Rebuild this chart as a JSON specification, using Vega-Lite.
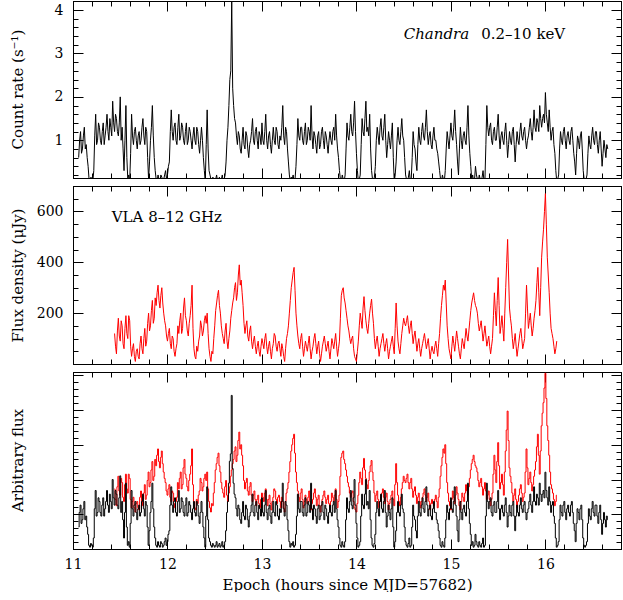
{
"$schema": "https://vega.github.io/schema/vega-lite/v6.json",
"padding": {"left": 10, "top": 0, "right": 0, "bottom": 0},
"background": "white",
"spacing": 8,
"bounds": "flush",
"config": {
  "view": {"stroke": null},
  "font": "DejaVu Serif",
  "axis": {"grid": false, "domainColor": "black", "tickColor": "black", "labelColor": "black", "titleColor": "black", "labelFont": "DejaVu Serif", "titleFont": "DejaVu Serif", "labelFontSize": 14, "titleFontSize": 15, "titleFontWeight": "normal", "labelFlush": false, "labelOverlap": false, "domainWidth": 1, "tickWidth": 1, "ticks": true}
},
"datasets": {
"xray": [
{"t":11.06,"c":0.6},{"t":11.07,"c":1.0},{"t":11.08,"c":1.2},{"t":11.09,"c":0.7},{"t":11.10,"c":0.8},{"t":11.11,"c":1.1},{"t":11.12,"c":1.3},{"t":11.13,"c":0.8},{"t":11.14,"c":0.9},{"t":11.15,"c":0.6},
{"t":11.16,"c":0.4},{"t":11.17,"c":0.1},{"t":11.18,"c":0.05},{"t":11.19,"c":0.15},{"t":11.20,"c":0.1},{"t":11.21,"c":0.05},{"t":11.22,"c":0.3},{"t":11.23,"c":1.1},{"t":11.24,"c":1.6},{"t":11.25,"c":0.9},
{"t":11.26,"c":1.0},{"t":11.27,"c":1.4},{"t":11.28,"c":1.3},{"t":11.29,"c":1.0},{"t":11.30,"c":0.9},{"t":11.31,"c":1.2},{"t":11.32,"c":1.4},{"t":11.33,"c":0.9},{"t":11.34,"c":1.1},{"t":11.35,"c":1.3},
{"t":11.36,"c":1.6},{"t":11.37,"c":1.2},{"t":11.38,"c":1.0},{"t":11.39,"c":1.5},{"t":11.40,"c":1.3},{"t":11.41,"c":1.1},{"t":11.42,"c":1.9},{"t":11.43,"c":1.4},{"t":11.44,"c":1.2},{"t":11.45,"c":1.6},
{"t":11.46,"c":1.5},{"t":11.47,"c":1.2},{"t":11.48,"c":1.1},{"t":11.49,"c":1.4},{"t":11.50,"c":2.0},{"t":11.51,"c":1.0},{"t":11.52,"c":1.3},{"t":11.53,"c":0.8},{"t":11.54,"c":0.3},{"t":11.55,"c":1.0},
{"t":11.56,"c":1.8},{"t":11.57,"c":0.6},{"t":11.58,"c":0.1},{"t":11.59,"c":0.2},{"t":11.60,"c":0.05},{"t":11.61,"c":0.7},{"t":11.62,"c":1.6},{"t":11.63,"c":1.1},{"t":11.64,"c":0.9},{"t":11.65,"c":1.2},
{"t":11.66,"c":1.3},{"t":11.67,"c":1.0},{"t":11.68,"c":0.8},{"t":11.69,"c":1.1},{"t":11.70,"c":1.2},{"t":11.71,"c":0.9},{"t":11.72,"c":1.0},{"t":11.73,"c":1.3},{"t":11.74,"c":1.5},{"t":11.75,"c":1.1},
{"t":11.76,"c":0.9},{"t":11.77,"c":1.3},{"t":11.78,"c":1.2},{"t":11.79,"c":0.6},{"t":11.80,"c":0.1},{"t":11.81,"c":0.5},{"t":11.82,"c":1.0},{"t":11.83,"c":1.3},{"t":11.84,"c":1.8},{"t":11.85,"c":1.1},
{"t":11.86,"c":0.6},{"t":11.87,"c":0.3},{"t":11.88,"c":0.1},{"t":11.89,"c":0.05},{"t":11.90,"c":0.2},{"t":11.91,"c":0.1},{"t":11.92,"c":0.05},{"t":11.93,"c":0.2},{"t":11.94,"c":0.15},{"t":11.95,"c":0.05},
{"t":11.96,"c":0.1},{"t":11.97,"c":0.2},{"t":11.98,"c":0.3},{"t":11.99,"c":0.1},{"t":12.00,"c":0.2},{"t":12.01,"c":0.4},{"t":12.02,"c":0.5},{"t":12.03,"c":1.2},{"t":12.04,"c":1.7},{"t":12.05,"c":1.2},
{"t":12.06,"c":1.0},{"t":12.07,"c":1.3},{"t":12.08,"c":1.4},{"t":12.09,"c":1.0},{"t":12.10,"c":0.9},{"t":12.11,"c":1.3},{"t":12.12,"c":1.6},{"t":12.13,"c":1.0},{"t":12.14,"c":1.1},{"t":12.15,"c":1.4},
{"t":12.16,"c":1.3},{"t":12.17,"c":1.0},{"t":12.18,"c":0.9},{"t":12.19,"c":1.2},{"t":12.20,"c":1.4},{"t":12.21,"c":0.9},{"t":12.22,"c":1.0},{"t":12.23,"c":1.3},{"t":12.24,"c":1.2},{"t":12.25,"c":1.0},
{"t":12.26,"c":0.8},{"t":12.27,"c":1.1},{"t":12.28,"c":1.3},{"t":12.29,"c":1.0},{"t":12.30,"c":0.9},{"t":12.31,"c":1.3},{"t":12.32,"c":1.2},{"t":12.33,"c":0.9},{"t":12.34,"c":0.7},{"t":12.35,"c":1.0},
{"t":12.36,"c":1.3},{"t":12.37,"c":1.0},{"t":12.38,"c":0.6},{"t":12.39,"c":0.3},{"t":12.40,"c":0.05},{"t":12.41,"c":0.9},{"t":12.42,"c":1.7},{"t":12.43,"c":0.8},{"t":12.44,"c":0.3},{"t":12.45,"c":0.2},
{"t":12.46,"c":0.1},{"t":12.47,"c":0.05},{"t":12.48,"c":0.15},{"t":12.49,"c":0.1},{"t":12.50,"c":0.05},{"t":12.51,"c":0.1},{"t":12.52,"c":0.2},{"t":12.53,"c":0.05},{"t":12.54,"c":0.1},{"t":12.55,"c":0.15},
{"t":12.56,"c":0.05},{"t":12.57,"c":0.1},{"t":12.58,"c":0.2},{"t":12.59,"c":0.05},{"t":12.60,"c":0.1},{"t":12.61,"c":0.2},{"t":12.62,"c":0.5},{"t":12.63,"c":1.0},{"t":12.64,"c":1.3},{"t":12.65,"c":1.8},
{"t":12.66,"c":2.4},{"t":12.67,"c":2.6},{"t":12.68,"c":4.2},{"t":12.69,"c":2.2},{"t":12.70,"c":1.8},{"t":12.71,"c":1.5},{"t":12.72,"c":1.4},{"t":12.73,"c":1.1},{"t":12.74,"c":0.9},{"t":12.75,"c":1.2},
{"t":12.76,"c":1.1},{"t":12.77,"c":0.8},{"t":12.78,"c":0.7},{"t":12.79,"c":1.0},{"t":12.80,"c":1.3},{"t":12.81,"c":0.9},{"t":12.82,"c":0.8},{"t":12.83,"c":1.2},{"t":12.84,"c":1.1},{"t":12.85,"c":0.8},
{"t":12.86,"c":0.6},{"t":12.87,"c":0.9},{"t":12.88,"c":1.0},{"t":12.89,"c":1.2},{"t":12.90,"c":1.5},{"t":12.91,"c":1.0},{"t":12.92,"c":0.9},{"t":12.93,"c":1.2},{"t":12.94,"c":1.3},{"t":12.95,"c":1.0},
{"t":12.96,"c":0.8},{"t":12.97,"c":1.2},{"t":12.98,"c":1.1},{"t":12.99,"c":0.9},{"t":13.00,"c":1.4},{"t":13.01,"c":1.0},{"t":13.02,"c":0.9},{"t":13.03,"c":1.2},{"t":13.04,"c":1.6},{"t":13.05,"c":1.0},
{"t":13.06,"c":0.8},{"t":13.07,"c":1.1},{"t":13.08,"c":1.2},{"t":13.09,"c":0.9},{"t":13.10,"c":0.7},{"t":13.11,"c":1.0},{"t":13.12,"c":1.3},{"t":13.13,"c":1.0},{"t":13.14,"c":0.9},{"t":13.15,"c":1.3},
{"t":13.16,"c":1.2},{"t":13.17,"c":0.9},{"t":13.18,"c":0.8},{"t":13.19,"c":1.1},{"t":13.20,"c":1.0},{"t":13.21,"c":1.3},{"t":13.22,"c":1.8},{"t":13.23,"c":1.1},{"t":13.24,"c":0.9},{"t":13.25,"c":1.3},
{"t":13.26,"c":1.2},{"t":13.27,"c":0.8},{"t":13.28,"c":0.5},{"t":13.29,"c":0.2},{"t":13.30,"c":0.05},{"t":13.31,"c":0.15},{"t":13.32,"c":0.1},{"t":13.33,"c":0.2},{"t":13.34,"c":0.05},{"t":13.35,"c":0.1},
{"t":13.36,"c":0.4},{"t":13.37,"c":0.9},{"t":13.38,"c":1.5},{"t":13.39,"c":1.1},{"t":13.40,"c":1.0},{"t":13.41,"c":1.3},{"t":13.42,"c":1.3},{"t":13.43,"c":1.0},{"t":13.44,"c":0.9},{"t":13.45,"c":1.2},
{"t":13.46,"c":1.4},{"t":13.47,"c":0.9},{"t":13.48,"c":1.0},{"t":13.49,"c":1.3},{"t":13.50,"c":1.2},{"t":13.51,"c":1.0},{"t":13.52,"c":1.8},{"t":13.53,"c":1.1},{"t":13.54,"c":0.8},{"t":13.55,"c":1.2},
{"t":13.56,"c":1.1},{"t":13.57,"c":0.9},{"t":13.58,"c":0.7},{"t":13.59,"c":1.1},{"t":13.60,"c":1.2},{"t":13.61,"c":0.8},{"t":13.62,"c":0.9},{"t":13.63,"c":1.2},{"t":13.64,"c":1.3},{"t":13.65,"c":1.0},
{"t":13.66,"c":0.8},{"t":13.67,"c":1.2},{"t":13.68,"c":1.1},{"t":13.69,"c":0.9},{"t":13.70,"c":0.7},{"t":13.71,"c":1.0},{"t":13.72,"c":1.2},{"t":13.73,"c":1.0},{"t":13.74,"c":0.9},{"t":13.75,"c":1.2},
{"t":13.76,"c":1.3},{"t":13.77,"c":1.0},{"t":13.78,"c":1.6},{"t":13.79,"c":1.1},{"t":13.80,"c":0.8},{"t":13.81,"c":0.6},{"t":13.82,"c":0.3},{"t":13.83,"c":0.1},{"t":13.84,"c":0.05},{"t":13.85,"c":0.2},
{"t":13.86,"c":0.1},{"t":13.87,"c":0.05},{"t":13.88,"c":0.2},{"t":13.89,"c":0.8},{"t":13.90,"c":1.4},{"t":13.91,"c":1.1},{"t":13.92,"c":1.0},{"t":13.93,"c":1.3},{"t":13.94,"c":1.6},{"t":13.95,"c":1.2},
{"t":13.96,"c":1.1},{"t":13.97,"c":1.4},{"t":13.98,"c":1.9},{"t":13.99,"c":1.2},{"t":14.00,"c":0.7},{"t":14.01,"c":0.3},{"t":14.02,"c":0.05},{"t":14.03,"c":0.1},{"t":14.04,"c":0.2},{"t":14.05,"c":0.9},
{"t":14.06,"c":1.5},{"t":14.07,"c":1.2},{"t":14.08,"c":1.1},{"t":14.09,"c":1.5},{"t":14.10,"c":1.9},{"t":14.11,"c":1.2},{"t":14.12,"c":1.3},{"t":14.13,"c":1.1},{"t":14.14,"c":1.6},{"t":14.15,"c":0.8},
{"t":14.16,"c":0.3},{"t":14.17,"c":0.1},{"t":14.18,"c":0.05},{"t":14.19,"c":0.15},{"t":14.20,"c":0.4},{"t":14.21,"c":1.0},{"t":14.22,"c":1.3},{"t":14.23,"c":1.1},{"t":14.24,"c":0.9},{"t":14.25,"c":1.3},
{"t":14.26,"c":1.5},{"t":14.27,"c":1.1},{"t":14.28,"c":1.0},{"t":14.29,"c":1.3},{"t":14.30,"c":1.6},{"t":14.31,"c":1.0},{"t":14.32,"c":0.6},{"t":14.33,"c":0.9},{"t":14.34,"c":1.2},{"t":14.35,"c":1.0},
{"t":14.36,"c":0.8},{"t":14.37,"c":1.1},{"t":14.38,"c":1.4},{"t":14.39,"c":0.6},{"t":14.40,"c":0.05},{"t":14.41,"c":0.2},{"t":14.42,"c":0.5},{"t":14.43,"c":1.0},{"t":14.44,"c":1.3},{"t":14.45,"c":1.0},
{"t":14.46,"c":0.9},{"t":14.47,"c":1.2},{"t":14.48,"c":1.5},{"t":14.49,"c":1.1},{"t":14.50,"c":1.0},{"t":14.51,"c":0.6},{"t":14.52,"c":0.2},{"t":14.53,"c":0.1},{"t":14.54,"c":0.05},{"t":14.55,"c":0.15},
{"t":14.56,"c":0.3},{"t":14.57,"c":0.05},{"t":14.58,"c":0.1},{"t":14.59,"c":0.6},{"t":14.60,"c":1.2},{"t":14.61,"c":0.9},{"t":14.62,"c":0.8},{"t":14.63,"c":0.5},{"t":14.64,"c":0.3},{"t":14.65,"c":0.9},
{"t":14.66,"c":1.3},{"t":14.67,"c":1.0},{"t":14.68,"c":0.9},{"t":14.69,"c":1.2},{"t":14.70,"c":1.4},{"t":14.71,"c":1.1},{"t":14.72,"c":1.0},{"t":14.73,"c":1.3},{"t":14.74,"c":1.7},{"t":14.75,"c":1.2},
{"t":14.76,"c":0.9},{"t":14.77,"c":1.1},{"t":14.78,"c":1.2},{"t":14.79,"c":0.9},{"t":14.80,"c":0.8},{"t":14.81,"c":1.1},{"t":14.82,"c":1.3},{"t":14.83,"c":1.0},{"t":14.84,"c":1.0},{"t":14.85,"c":0.8},
{"t":14.86,"c":0.7},{"t":14.87,"c":0.5},{"t":14.88,"c":0.3},{"t":14.89,"c":0.1},{"t":14.90,"c":0.05},{"t":14.91,"c":0.2},{"t":14.92,"c":0.1},{"t":14.93,"c":0.05},{"t":14.94,"c":0.3},{"t":14.95,"c":0.8},
{"t":14.96,"c":1.2},{"t":14.97,"c":1.0},{"t":14.98,"c":0.8},{"t":14.99,"c":1.1},{"t":15.00,"c":1.4},{"t":15.01,"c":1.1},{"t":15.02,"c":1.0},{"t":15.03,"c":1.3},{"t":15.04,"c":1.7},{"t":15.05,"c":1.2},
{"t":15.06,"c":0.9},{"t":15.07,"c":0.5},{"t":15.08,"c":0.2},{"t":15.09,"c":0.8},{"t":15.10,"c":1.3},{"t":15.11,"c":1.0},{"t":15.12,"c":0.8},{"t":15.13,"c":1.1},{"t":15.14,"c":1.2},{"t":15.15,"c":1.0},
{"t":15.16,"c":0.9},{"t":15.17,"c":1.3},{"t":15.18,"c":1.8},{"t":15.19,"c":1.1},{"t":15.20,"c":0.7},{"t":15.21,"c":0.4},{"t":15.22,"c":0.1},{"t":15.23,"c":0.2},{"t":15.24,"c":0.05},{"t":15.25,"c":0.1},
{"t":15.26,"c":0.4},{"t":15.27,"c":0.2},{"t":15.28,"c":0.1},{"t":15.29,"c":0.05},{"t":15.30,"c":0.2},{"t":15.31,"c":0.1},{"t":15.32,"c":0.05},{"t":15.33,"c":0.15},{"t":15.34,"c":0.3},{"t":15.35,"c":0.05},
{"t":15.36,"c":0.1},{"t":15.37,"c":0.9},{"t":15.38,"c":1.8},{"t":15.39,"c":1.3},{"t":15.40,"c":1.1},{"t":15.41,"c":1.3},{"t":15.42,"c":1.4},{"t":15.43,"c":1.0},{"t":15.44,"c":0.9},{"t":15.45,"c":1.2},
{"t":15.46,"c":1.3},{"t":15.47,"c":1.0},{"t":15.48,"c":1.0},{"t":15.49,"c":1.3},{"t":15.50,"c":1.6},{"t":15.51,"c":1.1},{"t":15.52,"c":0.8},{"t":15.53,"c":1.1},{"t":15.54,"c":1.2},{"t":15.55,"c":1.0},
{"t":15.56,"c":0.9},{"t":15.57,"c":1.2},{"t":15.58,"c":1.4},{"t":15.59,"c":1.0},{"t":15.60,"c":0.6},{"t":15.61,"c":0.9},{"t":15.62,"c":1.2},{"t":15.63,"c":1.0},{"t":15.64,"c":0.9},{"t":15.65,"c":1.2},
{"t":15.66,"c":1.3},{"t":15.67,"c":0.9},{"t":15.68,"c":0.5},{"t":15.69,"c":0.9},{"t":15.70,"c":1.2},{"t":15.71,"c":1.0},{"t":15.72,"c":0.9},{"t":15.73,"c":1.2},{"t":15.74,"c":1.4},{"t":15.75,"c":1.1},
{"t":15.76,"c":1.0},{"t":15.77,"c":1.2},{"t":15.78,"c":1.3},{"t":15.79,"c":1.0},{"t":15.80,"c":0.8},{"t":15.81,"c":1.0},{"t":15.82,"c":1.1},{"t":15.83,"c":1.3},{"t":15.84,"c":1.5},{"t":15.85,"c":1.2},
{"t":15.86,"c":1.0},{"t":15.87,"c":1.3},{"t":15.88,"c":1.7},{"t":15.89,"c":1.3},{"t":15.90,"c":1.2},{"t":15.91,"c":1.5},{"t":15.92,"c":1.4},{"t":15.93,"c":1.2},{"t":15.94,"c":1.8},{"t":15.95,"c":1.5},
{"t":15.96,"c":1.3},{"t":15.97,"c":1.5},{"t":15.98,"c":1.6},{"t":15.99,"c":1.4},{"t":16.00,"c":2.1},{"t":16.01,"c":1.6},{"t":16.02,"c":1.4},{"t":16.03,"c":1.2},{"t":16.04,"c":1.7},{"t":16.05,"c":1.3},
{"t":16.06,"c":1.0},{"t":16.07,"c":1.2},{"t":16.08,"c":1.3},{"t":16.09,"c":0.9},{"t":16.10,"c":0.7},{"t":16.11,"c":0.3},{"t":16.12,"c":0.05},{"t":16.13,"c":0.1},{"t":16.14,"c":0.2},{"t":16.15,"c":0.8},
{"t":16.16,"c":1.2},{"t":16.17,"c":1.0},{"t":16.18,"c":0.9},{"t":16.19,"c":1.2},{"t":16.20,"c":1.3},{"t":16.21,"c":1.0},{"t":16.22,"c":0.8},{"t":16.23,"c":1.1},{"t":16.24,"c":1.2},{"t":16.25,"c":1.0},
{"t":16.26,"c":0.9},{"t":16.27,"c":1.2},{"t":16.28,"c":1.3},{"t":16.29,"c":1.0},{"t":16.30,"c":0.7},{"t":16.31,"c":0.5},{"t":16.32,"c":0.2},{"t":16.33,"c":0.7},{"t":16.34,"c":1.1},{"t":16.35,"c":1.0},
{"t":16.36,"c":0.8},{"t":16.37,"c":1.1},{"t":16.38,"c":1.2},{"t":16.39,"c":0.8},{"t":16.40,"c":0.3},{"t":16.41,"c":0.1},{"t":16.42,"c":0.05},{"t":16.43,"c":0.1},{"t":16.44,"c":0.2},{"t":16.45,"c":0.7},
{"t":16.46,"c":1.1},{"t":16.47,"c":0.9},{"t":16.48,"c":0.8},{"t":16.49,"c":1.1},{"t":16.50,"c":1.3},{"t":16.51,"c":1.0},{"t":16.52,"c":0.9},{"t":16.53,"c":1.2},{"t":16.54,"c":1.2},{"t":16.55,"c":0.9},
{"t":16.56,"c":0.7},{"t":16.57,"c":1.0},{"t":16.58,"c":1.2},{"t":16.59,"c":0.8},{"t":16.60,"c":0.4},{"t":16.61,"c":0.7},{"t":16.62,"c":1.0},{"t":16.63,"c":0.8},{"t":16.64,"c":0.6},{"t":16.65,"c":0.9},
{"t":16.66,"c":0.8}
],
"radio": [
{"t":11.44,"f":120},{"t":11.45,"f":70},{"t":11.46,"f":40},{"t":11.47,"f":130},{"t":11.48,"f":180},{"t":11.49,"f":110},{"t":11.50,"f":90},{"t":11.51,"f":170},{"t":11.52,"f":150},{"t":11.53,"f":80},
{"t":11.54,"f":60},{"t":11.55,"f":140},{"t":11.56,"f":190},{"t":11.57,"f":120},{"t":11.58,"f":100},{"t":11.59,"f":190},{"t":11.60,"f":170},{"t":11.61,"f":70},{"t":11.62,"f":30},{"t":11.63,"f":60},
{"t":11.64,"f":80},{"t":11.65,"f":30},{"t":11.66,"f":10},{"t":11.67,"f":50},{"t":11.68,"f":60},{"t":11.69,"f":30},{"t":11.70,"f":20},{"t":11.71,"f":80},{"t":11.72,"f":110},{"t":11.73,"f":60},
{"t":11.74,"f":40},{"t":11.75,"f":100},{"t":11.76,"f":140},{"t":11.77,"f":70},{"t":11.78,"f":90},{"t":11.79,"f":160},{"t":11.80,"f":200},{"t":11.81,"f":130},{"t":11.82,"f":150},{"t":11.83,"f":210},
{"t":11.84,"f":250},{"t":11.85,"f":160},{"t":11.86,"f":180},{"t":11.87,"f":260},{"t":11.88,"f":230},{"t":11.89,"f":280},{"t":11.90,"f":310},{"t":11.91,"f":250},{"t":11.92,"f":220},{"t":11.93,"f":270},
{"t":11.94,"f":300},{"t":11.95,"f":240},{"t":11.96,"f":200},{"t":11.97,"f":170},{"t":11.98,"f":150},{"t":11.99,"f":110},{"t":12.00,"f":90},{"t":12.01,"f":120},{"t":12.02,"f":140},{"t":12.03,"f":80},
{"t":12.04,"f":60},{"t":12.05,"f":110},{"t":12.06,"f":100},{"t":12.07,"f":50},{"t":12.08,"f":30},{"t":12.09,"f":60},{"t":12.10,"f":80},{"t":12.11,"f":150},{"t":12.12,"f":120},{"t":12.13,"f":170},
{"t":12.14,"f":200},{"t":12.15,"f":120},{"t":12.16,"f":140},{"t":12.17,"f":220},{"t":12.18,"f":260},{"t":12.19,"f":190},{"t":12.20,"f":170},{"t":12.21,"f":130},{"t":12.22,"f":110},{"t":12.23,"f":160},
{"t":12.24,"f":190},{"t":12.25,"f":230},{"t":12.26,"f":310},{"t":12.27,"f":140},{"t":12.28,"f":60},{"t":12.29,"f":30},{"t":12.30,"f":20},{"t":12.31,"f":70},{"t":12.32,"f":50},{"t":12.33,"f":90},
{"t":12.34,"f":110},{"t":12.35,"f":170},{"t":12.36,"f":150},{"t":12.37,"f":110},{"t":12.38,"f":130},{"t":12.39,"f":170},{"t":12.40,"f":190},{"t":12.41,"f":160},{"t":12.42,"f":200},{"t":12.43,"f":120},
{"t":12.44,"f":60},{"t":12.45,"f":30},{"t":12.46,"f":10},{"t":12.47,"f":50},{"t":12.48,"f":40},{"t":12.49,"f":100},{"t":12.50,"f":150},{"t":12.51,"f":210},{"t":12.52,"f":240},{"t":12.53,"f":270},
{"t":12.54,"f":290},{"t":12.55,"f":230},{"t":12.56,"f":200},{"t":12.57,"f":150},{"t":12.58,"f":120},{"t":12.59,"f":100},{"t":12.60,"f":80},{"t":12.61,"f":130},{"t":12.62,"f":160},{"t":12.63,"f":90},
{"t":12.64,"f":60},{"t":12.65,"f":100},{"t":12.66,"f":130},{"t":12.67,"f":180},{"t":12.68,"f":210},{"t":12.69,"f":240},{"t":12.70,"f":260},{"t":12.71,"f":300},{"t":12.72,"f":320},{"t":12.73,"f":250},
{"t":12.74,"f":280},{"t":12.75,"f":350},{"t":12.76,"f":390},{"t":12.77,"f":310},{"t":12.78,"f":330},{"t":12.79,"f":280},{"t":12.80,"f":230},{"t":12.81,"f":160},{"t":12.82,"f":120},{"t":12.83,"f":150},
{"t":12.84,"f":170},{"t":12.85,"f":110},{"t":12.86,"f":90},{"t":12.87,"f":130},{"t":12.88,"f":150},{"t":12.89,"f":90},{"t":12.90,"f":60},{"t":12.91,"f":90},{"t":12.92,"f":110},{"t":12.93,"f":70},
{"t":12.94,"f":40},{"t":12.95,"f":70},{"t":12.96,"f":90},{"t":12.97,"f":50},{"t":12.98,"f":30},{"t":12.99,"f":70},{"t":13.00,"f":100},{"t":13.01,"f":80},{"t":13.02,"f":60},{"t":13.03,"f":100},
{"t":13.04,"f":120},{"t":13.05,"f":70},{"t":13.06,"f":40},{"t":13.07,"f":70},{"t":13.08,"f":90},{"t":13.09,"f":50},{"t":13.10,"f":20},{"t":13.11,"f":60},{"t":13.12,"f":80},{"t":13.13,"f":120},
{"t":13.14,"f":110},{"t":13.15,"f":70},{"t":13.16,"f":50},{"t":13.17,"f":80},{"t":13.18,"f":90},{"t":13.19,"f":60},{"t":13.20,"f":30},{"t":13.21,"f":80},{"t":13.22,"f":60},{"t":13.23,"f":30},
{"t":13.24,"f":10},{"t":13.25,"f":60},{"t":13.26,"f":100},{"t":13.27,"f":120},{"t":13.28,"f":150},{"t":13.29,"f":200},{"t":13.30,"f":250},{"t":13.31,"f":300},{"t":13.32,"f":330},{"t":13.33,"f":360},
{"t":13.34,"f":380},{"t":13.35,"f":290},{"t":13.36,"f":200},{"t":13.37,"f":150},{"t":13.38,"f":110},{"t":13.39,"f":80},{"t":13.40,"f":60},{"t":13.41,"f":100},{"t":13.42,"f":120},{"t":13.43,"f":70},
{"t":13.44,"f":30},{"t":13.45,"f":60},{"t":13.46,"f":90},{"t":13.47,"f":70},{"t":13.48,"f":50},{"t":13.49,"f":80},{"t":13.50,"f":110},{"t":13.51,"f":60},{"t":13.52,"f":20},{"t":13.53,"f":50},
{"t":13.54,"f":70},{"t":13.55,"f":100},{"t":13.56,"f":120},{"t":13.57,"f":80},{"t":13.58,"f":40},{"t":13.59,"f":70},{"t":13.60,"f":90},{"t":13.61,"f":40},{"t":13.62,"f":10},{"t":13.63,"f":40},
{"t":13.64,"f":70},{"t":13.65,"f":90},{"t":13.66,"f":110},{"t":13.67,"f":80},{"t":13.68,"f":50},{"t":13.69,"f":70},{"t":13.70,"f":90},{"t":13.71,"f":50},{"t":13.72,"f":20},{"t":13.73,"f":60},
{"t":13.74,"f":100},{"t":13.75,"f":80},{"t":13.76,"f":60},{"t":13.77,"f":90},{"t":13.78,"f":120},{"t":13.79,"f":70},{"t":13.80,"f":30},{"t":13.81,"f":60},{"t":13.82,"f":90},{"t":13.83,"f":180},
{"t":13.84,"f":270},{"t":13.85,"f":290},{"t":13.86,"f":300},{"t":13.87,"f":260},{"t":13.88,"f":240},{"t":13.89,"f":210},{"t":13.90,"f":180},{"t":13.91,"f":150},{"t":13.92,"f":130},{"t":13.93,"f":100},
{"t":13.94,"f":80},{"t":13.95,"f":100},{"t":13.96,"f":110},{"t":13.97,"f":60},{"t":13.98,"f":30},{"t":13.99,"f":20},{"t":14.00,"f":10},{"t":14.01,"f":50},{"t":14.02,"f":90},{"t":14.03,"f":150},
{"t":14.04,"f":200},{"t":14.05,"f":170},{"t":14.06,"f":140},{"t":14.07,"f":220},{"t":14.08,"f":265},{"t":14.09,"f":210},{"t":14.10,"f":170},{"t":14.11,"f":140},{"t":14.12,"f":120},{"t":14.13,"f":160},
{"t":14.14,"f":200},{"t":14.15,"f":230},{"t":14.16,"f":255},{"t":14.17,"f":200},{"t":14.18,"f":160},{"t":14.19,"f":100},{"t":14.20,"f":60},{"t":14.21,"f":90},{"t":14.22,"f":110},{"t":14.23,"f":70},
{"t":14.24,"f":30},{"t":14.25,"f":60},{"t":14.26,"f":80},{"t":14.27,"f":100},{"t":14.28,"f":120},{"t":14.29,"f":80},{"t":14.30,"f":50},{"t":14.31,"f":80},{"t":14.32,"f":100},{"t":14.33,"f":60},
{"t":14.34,"f":20},{"t":14.35,"f":50},{"t":14.36,"f":70},{"t":14.37,"f":90},{"t":14.38,"f":110},{"t":14.39,"f":70},{"t":14.40,"f":40},{"t":14.41,"f":140},{"t":14.42,"f":240},{"t":14.43,"f":150},
{"t":14.44,"f":90},{"t":14.45,"f":60},{"t":14.46,"f":40},{"t":14.47,"f":80},{"t":14.48,"f":120},{"t":14.49,"f":150},{"t":14.50,"f":180},{"t":14.51,"f":160},{"t":14.52,"f":150},{"t":14.53,"f":170},
{"t":14.54,"f":190},{"t":14.55,"f":150},{"t":14.56,"f":120},{"t":14.57,"f":150},{"t":14.58,"f":170},{"t":14.59,"f":120},{"t":14.60,"f":80},{"t":14.61,"f":110},{"t":14.62,"f":130},{"t":14.63,"f":90},
{"t":14.64,"f":50},{"t":14.65,"f":80},{"t":14.66,"f":100},{"t":14.67,"f":60},{"t":14.68,"f":30},{"t":14.69,"f":60},{"t":14.70,"f":80},{"t":14.71,"f":100},{"t":14.72,"f":120},{"t":14.73,"f":90},
{"t":14.74,"f":60},{"t":14.75,"f":80},{"t":14.76,"f":100},{"t":14.77,"f":60},{"t":14.78,"f":20},{"t":14.79,"f":50},{"t":14.80,"f":70},{"t":14.81,"f":50},{"t":14.82,"f":40},{"t":14.83,"f":70},
{"t":14.84,"f":90},{"t":14.85,"f":60},{"t":14.86,"f":30},{"t":14.87,"f":80},{"t":14.88,"f":120},{"t":14.89,"f":180},{"t":14.90,"f":230},{"t":14.91,"f":270},{"t":14.92,"f":310},{"t":14.93,"f":290},
{"t":14.94,"f":330},{"t":14.95,"f":240},{"t":14.96,"f":150},{"t":14.97,"f":100},{"t":14.98,"f":60},{"t":14.99,"f":40},{"t":15.00,"f":20},{"t":15.01,"f":70},{"t":15.02,"f":110},{"t":15.03,"f":80},
{"t":15.04,"f":50},{"t":15.05,"f":90},{"t":15.06,"f":130},{"t":15.07,"f":100},{"t":15.08,"f":70},{"t":15.09,"f":40},{"t":15.10,"f":20},{"t":15.11,"f":60},{"t":15.12,"f":100},{"t":15.13,"f":80},
{"t":15.14,"f":60},{"t":15.15,"f":100},{"t":15.16,"f":140},{"t":15.17,"f":110},{"t":15.18,"f":90},{"t":15.19,"f":130},{"t":15.20,"f":170},{"t":15.21,"f":210},{"t":15.22,"f":240},{"t":15.23,"f":260},
{"t":15.24,"f":280},{"t":15.25,"f":250},{"t":15.26,"f":230},{"t":15.27,"f":220},{"t":15.28,"f":200},{"t":15.29,"f":160},{"t":15.30,"f":130},{"t":15.31,"f":150},{"t":15.32,"f":170},{"t":15.33,"f":130},
{"t":15.34,"f":90},{"t":15.35,"f":120},{"t":15.36,"f":150},{"t":15.37,"f":110},{"t":15.38,"f":70},{"t":15.39,"f":90},{"t":15.40,"f":110},{"t":15.41,"f":70},{"t":15.42,"f":40},{"t":15.43,"f":70},
{"t":15.44,"f":100},{"t":15.45,"f":190},{"t":15.46,"f":280},{"t":15.47,"f":210},{"t":15.48,"f":150},{"t":15.49,"f":250},{"t":15.50,"f":340},{"t":15.51,"f":230},{"t":15.52,"f":120},{"t":15.53,"f":150},
{"t":15.54,"f":190},{"t":15.55,"f":140},{"t":15.56,"f":90},{"t":15.57,"f":200},{"t":15.58,"f":300},{"t":15.59,"f":400},{"t":15.60,"f":490},{"t":15.61,"f":350},{"t":15.62,"f":220},{"t":15.63,"f":180},
{"t":15.64,"f":150},{"t":15.65,"f":100},{"t":15.66,"f":60},{"t":15.67,"f":90},{"t":15.68,"f":120},{"t":15.69,"f":70},{"t":15.70,"f":30},{"t":15.71,"f":60},{"t":15.72,"f":90},{"t":15.73,"f":120},
{"t":15.74,"f":140},{"t":15.75,"f":100},{"t":15.76,"f":60},{"t":15.77,"f":80},{"t":15.78,"f":100},{"t":15.79,"f":200},{"t":15.80,"f":310},{"t":15.81,"f":220},{"t":15.82,"f":140},{"t":15.83,"f":170},
{"t":15.84,"f":200},{"t":15.85,"f":150},{"t":15.86,"f":110},{"t":15.87,"f":140},{"t":15.88,"f":180},{"t":15.89,"f":210},{"t":15.90,"f":250},{"t":15.91,"f":320},{"t":15.92,"f":380},{"t":15.93,"f":280},
{"t":15.94,"f":190},{"t":15.95,"f":300},{"t":15.96,"f":420},{"t":15.97,"f":480},{"t":15.98,"f":530},{"t":15.99,"f":600},{"t":16.00,"f":670},{"t":16.01,"f":550},{"t":16.02,"f":420},{"t":16.03,"f":350},
{"t":16.04,"f":280},{"t":16.05,"f":200},{"t":16.06,"f":140},{"t":16.07,"f":120},{"t":16.08,"f":100},{"t":16.09,"f":70},{"t":16.10,"f":40},{"t":16.11,"f":60},{"t":16.12,"f":90}
]
},
"vconcat": [
{
  "width": 548, "height": 177,
  "resolve": {"axis": {"x": "independent", "y": "independent"}},
  "layer": [
    {
      "data": {"name": "xray"},
      "mark": {"type": "line", "color": "black", "strokeWidth": 1, "clip": true},
      "encoding": {
        "x": {"field": "t", "type": "quantitative", "scale": {"domain": [11, 16.8], "nice": false, "zero": false},
              "axis": {"orient": "bottom", "values": [11,12,13,14,15,16], "labels": false, "title": null, "tickSize": -10}},
        "y": {"field": "c", "type": "quantitative", "scale": {"domain": [0.13, 4.21], "nice": false, "zero": false},
              "axis": {"orient": "left", "values": [1,2,3,4], "format": "d", "labelPadding": 20, "tickSize": -10,
                       "title": "Count rate (s⁻¹)", "titleX": -56, "titleY": 88, "titleAngle": 270, "titleAlign": "center", "titleBaseline": "middle"}}
      }
    },
    {
      "data": {"name": "xray"},
      "mark": {"type": "line", "opacity": 0, "clip": true},
      "encoding": {
        "x": {"field": "t", "type": "quantitative", "scale": {"domain": [11, 16.8], "nice": false, "zero": false},
              "axis": {"orient": "top", "values": [11,12,13,14,15,16], "labels": false, "title": null, "tickSize": -10}},
        "y": {"field": "c", "type": "quantitative", "scale": {"domain": [0.13, 4.21], "nice": false, "zero": false},
              "axis": {"orient": "right", "values": [1,2,3,4], "labels": false, "title": null, "tickSize": -10}}
      }
    },
    {
      "data": {"name": "xray"},
      "mark": {"type": "line", "opacity": 0, "clip": true},
      "encoding": {
        "x": {"field": "t", "type": "quantitative", "scale": {"domain": [11, 16.8], "nice": false, "zero": false},
              "axis": {"orient": "bottom", "values": [11,11.2,11.4,11.6,11.8,12,12.2,12.4,12.6,12.8,13,13.2,13.4,13.6,13.8,14,14.2,14.4,14.6,14.8,15,15.2,15.4,15.6,15.8,16,16.2,16.4,16.6,16.8], "labels": false, "title": null, "tickSize": -5}},
        "y": {"field": "c", "type": "quantitative", "scale": {"domain": [0.13, 4.21], "nice": false, "zero": false},
              "axis": {"orient": "left", "values": [0.2,0.4,0.6,0.8,1,1.2,1.4,1.6,1.8,2,2.2,2.4,2.6,2.8,3,3.2,3.4,3.6,3.8,4,4.2], "labels": false, "title": null, "tickSize": -5}}
      }
    },
    {
      "data": {"name": "xray"},
      "mark": {"type": "line", "opacity": 0, "clip": true},
      "encoding": {
        "x": {"field": "t", "type": "quantitative", "scale": {"domain": [11, 16.8], "nice": false, "zero": false},
              "axis": {"orient": "top", "values": [11,11.2,11.4,11.6,11.8,12,12.2,12.4,12.6,12.8,13,13.2,13.4,13.6,13.8,14,14.2,14.4,14.6,14.8,15,15.2,15.4,15.6,15.8,16,16.2,16.4,16.6,16.8], "labels": false, "title": null, "tickSize": -5}},
        "y": {"field": "c", "type": "quantitative", "scale": {"domain": [0.13, 4.21], "nice": false, "zero": false},
              "axis": {"orient": "right", "values": [0.2,0.4,0.6,0.8,1,1.2,1.4,1.6,1.8,2,2.2,2.4,2.6,2.8,3,3.2,3.4,3.6,3.8,4,4.2], "labels": false, "title": null, "tickSize": -5}}
      }
    },
    {
      "data": {"values": [{"t": 14.5, "c": 3.44, "label": "Chandra"}]},
      "mark": {"type": "text", "font": "DejaVu Serif", "fontSize": 15, "fontStyle": "italic", "align": "left", "baseline": "middle", "color": "black"},
      "encoding": {
        "x": {"field": "t", "type": "quantitative", "axis": null},
        "y": {"field": "c", "type": "quantitative", "axis": null},
        "text": {"field": "label"}
      }
    },
    {
      "data": {"values": [{"t": 15.32, "c": 3.44, "label": "0.2–10 keV"}]},
      "mark": {"type": "text", "font": "DejaVu Serif", "fontSize": 15, "align": "left", "baseline": "middle", "color": "black"},
      "encoding": {
        "x": {"field": "t", "type": "quantitative", "axis": null},
        "y": {"field": "c", "type": "quantitative", "axis": null},
        "text": {"field": "label"}
      }
    }
  ]
},
{
  "width": 548, "height": 178,
  "resolve": {"axis": {"x": "independent", "y": "independent"}},
  "layer": [
    {
      "data": {"name": "radio"},
      "mark": {"type": "line", "color": "#ff0000", "strokeWidth": 1, "clip": true},
      "encoding": {
        "x": {"field": "t", "type": "quantitative", "scale": {"domain": [11, 16.8], "nice": false, "zero": false},
              "axis": {"orient": "bottom", "values": [11,12,13,14,15,16], "labels": false, "title": null, "tickSize": -10}},
        "y": {"field": "f", "type": "quantitative", "scale": {"domain": [0, 700], "nice": false, "zero": false},
              "axis": {"orient": "left", "values": [200,400,600], "format": "d", "labelPadding": 20, "tickSize": -10,
                       "title": "Flux density (μJy)", "titleX": -56, "titleY": 89, "titleAngle": 270, "titleAlign": "center", "titleBaseline": "middle"}}
      }
    },
    {
      "data": {"name": "radio"},
      "mark": {"type": "line", "opacity": 0, "clip": true},
      "encoding": {
        "x": {"field": "t", "type": "quantitative", "scale": {"domain": [11, 16.8], "nice": false, "zero": false},
              "axis": {"orient": "top", "values": [11,12,13,14,15,16], "labels": false, "title": null, "tickSize": -10}},
        "y": {"field": "f", "type": "quantitative", "scale": {"domain": [0, 700], "nice": false, "zero": false},
              "axis": {"orient": "right", "values": [200,400,600], "labels": false, "title": null, "tickSize": -10}}
      }
    },
    {
      "data": {"name": "radio"},
      "mark": {"type": "line", "opacity": 0, "clip": true},
      "encoding": {
        "x": {"field": "t", "type": "quantitative", "scale": {"domain": [11, 16.8], "nice": false, "zero": false},
              "axis": {"orient": "bottom", "values": [11,11.2,11.4,11.6,11.8,12,12.2,12.4,12.6,12.8,13,13.2,13.4,13.6,13.8,14,14.2,14.4,14.6,14.8,15,15.2,15.4,15.6,15.8,16,16.2,16.4,16.6,16.8], "labels": false, "title": null, "tickSize": -5}},
        "y": {"field": "f", "type": "quantitative", "scale": {"domain": [0, 700], "nice": false, "zero": false},
              "axis": {"orient": "left", "values": [50,100,150,200,250,300,350,400,450,500,550,600,650,700], "labels": false, "title": null, "tickSize": -5}}
      }
    },
    {
      "data": {"name": "radio"},
      "mark": {"type": "line", "opacity": 0, "clip": true},
      "encoding": {
        "x": {"field": "t", "type": "quantitative", "scale": {"domain": [11, 16.8], "nice": false, "zero": false},
              "axis": {"orient": "top", "values": [11,11.2,11.4,11.6,11.8,12,12.2,12.4,12.6,12.8,13,13.2,13.4,13.6,13.8,14,14.2,14.4,14.6,14.8,15,15.2,15.4,15.6,15.8,16,16.2,16.4,16.6,16.8], "labels": false, "title": null, "tickSize": -5}},
        "y": {"field": "f", "type": "quantitative", "scale": {"domain": [0, 700], "nice": false, "zero": false},
              "axis": {"orient": "right", "values": [50,100,150,200,250,300,350,400,450,500,550,600,650,700], "labels": false, "title": null, "tickSize": -5}}
      }
    },
    {
      "data": {"values": [{"t": 11.41, "f": 579, "label": "VLA 8–12 GHz"}]},
      "mark": {"type": "text", "font": "DejaVu Serif", "fontSize": 15, "align": "left", "baseline": "middle", "color": "black"},
      "encoding": {
        "x": {"field": "t", "type": "quantitative", "axis": null},
        "y": {"field": "f", "type": "quantitative", "axis": null},
        "text": {"field": "label"}
      }
    }
  ]
},
{
  "width": 548, "height": 177,
  "resolve": {"scale": {"y": "independent"}, "axis": {"x": "independent", "y": "independent"}},
  "layer": [
    {
      "data": {"name": "radio"},
      "mark": {"type": "line", "color": "#ff0000", "strokeWidth": 1, "interpolate": "step", "clip": true},
      "encoding": {
        "x": {"field": "t", "type": "quantitative", "scale": {"domain": [11, 16.8], "nice": false, "zero": false}, "axis": null},
        "y": {"field": "f", "type": "quantitative", "scale": {"domain": [-166, 676], "nice": false, "zero": false}, "axis": null}
      }
    },
    {
      "data": {"name": "xray"},
      "mark": {"type": "line", "color": "black", "strokeWidth": 1, "interpolate": "step", "clip": true},
      "encoding": {
        "x": {"field": "t", "type": "quantitative", "scale": {"domain": [11, 16.8], "nice": false, "zero": false}, "axis": null},
        "y": {"field": "c", "type": "quantitative", "scale": {"domain": [0, 4.84], "nice": false, "zero": false}, "axis": null}
      }
    },
    {
      "data": {"name": "xray"},
      "mark": {"type": "line", "opacity": 0, "clip": true},
      "encoding": {
        "x": {"field": "t", "type": "quantitative", "scale": {"domain": [11, 16.8], "nice": false, "zero": false},
              "axis": {"orient": "bottom", "values": [11,12,13,14,15,16], "format": "d", "labelPadding": 18, "tickSize": -10,
                       "title": "Epoch (hours since MJD=57682)", "titleX": 274, "titleY": 35, "titleAlign": "center", "titleBaseline": "middle"}},
        "y": {"field": "c", "type": "quantitative", "scale": {"domain": [0, 5.1], "nice": false, "zero": false},
              "axis": {"orient": "left", "values": [0,1,2,3,4,5], "labels": false, "tickSize": -10,
                       "title": "Arbitrary flux", "titleX": -56, "titleY": 88, "titleAngle": 270, "titleAlign": "center", "titleBaseline": "middle"}}
      }
    },
    {
      "data": {"name": "xray"},
      "mark": {"type": "line", "opacity": 0, "clip": true},
      "encoding": {
        "x": {"field": "t", "type": "quantitative", "scale": {"domain": [11, 16.8], "nice": false, "zero": false},
              "axis": {"orient": "top", "values": [11,12,13,14,15,16], "labels": false, "title": null, "tickSize": -10}},
        "y": {"field": "c", "type": "quantitative", "scale": {"domain": [0, 5.1], "nice": false, "zero": false},
              "axis": {"orient": "right", "values": [0,1,2,3,4,5], "labels": false, "title": null, "tickSize": -10}}
      }
    },
    {
      "data": {"name": "xray"},
      "mark": {"type": "line", "opacity": 0, "clip": true},
      "encoding": {
        "x": {"field": "t", "type": "quantitative", "scale": {"domain": [11, 16.8], "nice": false, "zero": false},
              "axis": {"orient": "bottom", "values": [11,11.2,11.4,11.6,11.8,12,12.2,12.4,12.6,12.8,13,13.2,13.4,13.6,13.8,14,14.2,14.4,14.6,14.8,15,15.2,15.4,15.6,15.8,16,16.2,16.4,16.6,16.8], "labels": false, "title": null, "tickSize": -5}},
        "y": {"field": "c", "type": "quantitative", "scale": {"domain": [0, 5.1], "nice": false, "zero": false},
              "axis": {"orient": "left", "values": [0,0.2,0.4,0.6,0.8,1,1.2,1.4,1.6,1.8,2,2.2,2.4,2.6,2.8,3,3.2,3.4,3.6,3.8,4,4.2,4.4,4.6,4.8,5], "labels": false, "title": null, "tickSize": -5}}
      }
    },
    {
      "data": {"name": "xray"},
      "mark": {"type": "line", "opacity": 0, "clip": true},
      "encoding": {
        "x": {"field": "t", "type": "quantitative", "scale": {"domain": [11, 16.8], "nice": false, "zero": false},
              "axis": {"orient": "top", "values": [11,11.2,11.4,11.6,11.8,12,12.2,12.4,12.6,12.8,13,13.2,13.4,13.6,13.8,14,14.2,14.4,14.6,14.8,15,15.2,15.4,15.6,15.8,16,16.2,16.4,16.6,16.8], "labels": false, "title": null, "tickSize": -5}},
        "y": {"field": "c", "type": "quantitative", "scale": {"domain": [0, 5.1], "nice": false, "zero": false},
              "axis": {"orient": "right", "values": [0,0.2,0.4,0.6,0.8,1,1.2,1.4,1.6,1.8,2,2.2,2.4,2.6,2.8,3,3.2,3.4,3.6,3.8,4,4.2,4.4,4.6,4.8,5], "labels": false, "title": null, "tickSize": -5}}
      }
    }
  ]
}
]
}
